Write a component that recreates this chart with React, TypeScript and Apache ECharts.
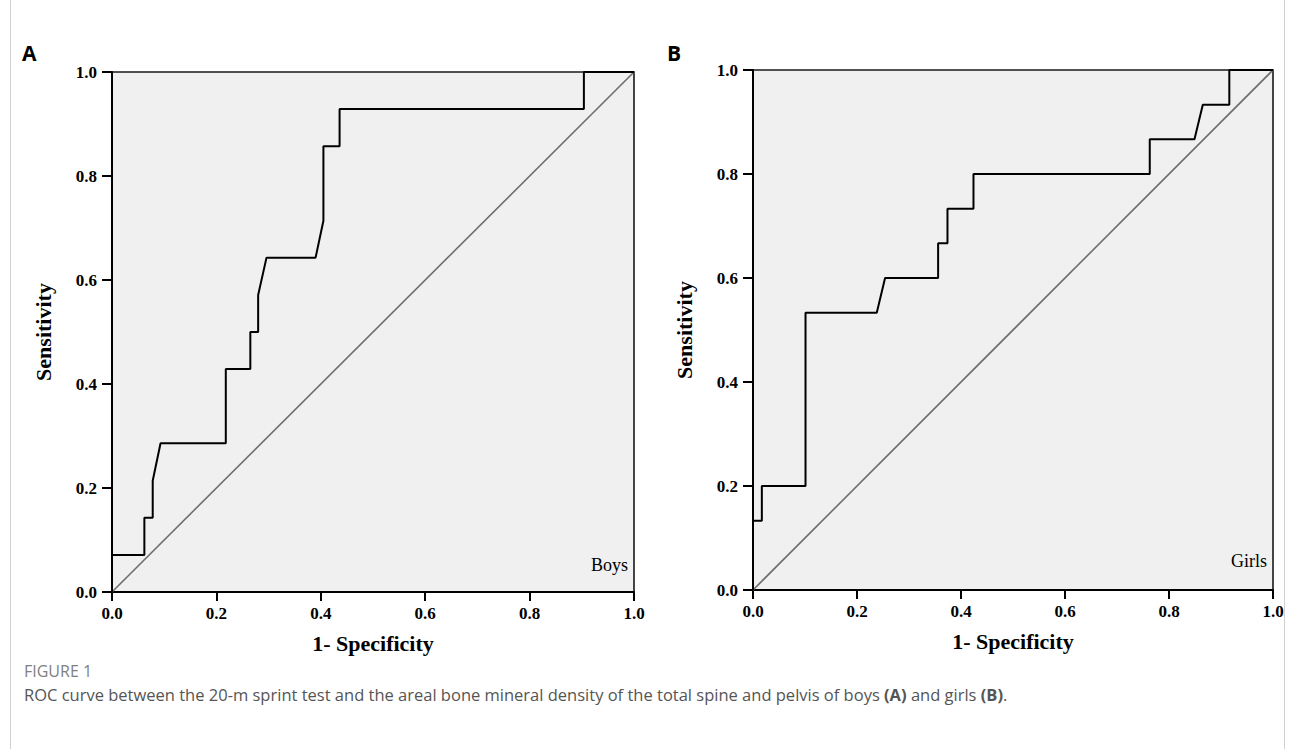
import React, { useEffect, useRef } from "react";
import * as echarts from "echarts";

const tickLabels = ["0.0", "0.2", "0.4", "0.6", "0.8", "1.0"];
const boysFPR = [0, 0, 0.062, 0.062, 0.078, 0.078, 0.093, 0.218, 0.218, 0.265, 0.265, 0.28, 0.28, 0.296, 0.39, 0.405, 0.405, 0.436, 0.436, 0.904, 0.904, 1];
const boysTPR = [0, 0.071, 0.071, 0.143, 0.143, 0.214, 0.286, 0.286, 0.429, 0.429, 0.5, 0.5, 0.571, 0.643, 0.643, 0.714, 0.857, 0.857, 0.929, 0.929, 1, 1];
const girlsFPR = [0, 0, 0.017, 0.017, 0.101, 0.101, 0.238, 0.254, 0.356, 0.356, 0.374, 0.374, 0.424, 0.424, 0.763, 0.763, 0.849, 0.865, 0.916, 0.916, 1];
const girlsTPR = [0, 0.133, 0.133, 0.2, 0.2, 0.533, 0.533, 0.6, 0.6, 0.667, 0.667, 0.733, 0.733, 0.8, 0.8, 0.867, 0.867, 0.933, 0.933, 1, 1];
const refX = [0, 1];
const refY = [0, 1];

const SERIF = "'Liberation Serif', 'Times New Roman', serif";
const SANS = "'Open Sans', 'Noto Sans', sans-serif";

function zip(xs: number[], ys: number[]) {
  return xs.map((x, i) => [x, ys[i]]);
}

function makeX(gridIndex: number) {
  return {
    type: "value",
    gridIndex,
    min: 0,
    max: 1,
    interval: 0.2,
    name: "1- Specificity",
    nameLocation: "middle",
    nameGap: 40,
    nameTextStyle: { fontFamily: SERIF, fontWeight: "bold", fontSize: 22, color: "#000" },
    axisLine: { show: true, onZero: false, lineStyle: { color: "#000", width: 2 } },
    axisTick: { show: true, inside: false, length: 9, lineStyle: { color: "#000", width: 2 } },
    axisLabel: {
      show: true,
      margin: 13,
      showMinLabel: true,
      showMaxLabel: true,
      fontFamily: SERIF,
      fontWeight: "bold",
      fontSize: 17,
      color: "#000",
      formatter: (v: number) => tickLabels[Math.round(v / 0.2)],
    },
    splitLine: { show: false },
  };
}

function makeY(gridIndex: number) {
  return {
    type: "value",
    gridIndex,
    min: 0,
    max: 1,
    interval: 0.2,
    name: "Sensitivity",
    nameLocation: "middle",
    nameRotate: 90,
    nameGap: 58,
    nameTextStyle: { fontFamily: SERIF, fontWeight: "bold", fontSize: 22, color: "#000" },
    axisLine: { show: true, onZero: false, lineStyle: { color: "#000", width: 2 } },
    axisTick: { show: true, inside: false, length: 10, lineStyle: { color: "#000", width: 2 } },
    axisLabel: {
      show: true,
      margin: 15,
      showMinLabel: true,
      showMaxLabel: true,
      fontFamily: SERIF,
      fontWeight: "bold",
      fontSize: 17,
      color: "#000",
      formatter: (v: number) => tickLabels[Math.round(v / 0.2)],
    },
    splitLine: { show: false },
  };
}

export default function App() {
  const ref = useRef<HTMLDivElement>(null);
  useEffect(() => {
    if (!ref.current) return;
    const chart = echarts.init(ref.current, undefined, { renderer: "svg" });
    const curveStyle = { color: "#000", width: 2 };
    const diagStyle = { color: "#6e6e6e", width: 1.6 };
    chart.setOption({
      animation: false,
      backgroundColor: "#fff",
      grid: [
        { left: 112, top: 72, width: 522, height: 520, show: true, backgroundColor: "#f0f0f0", borderColor: "#1a1a1a", borderWidth: 1.6 },
        { left: 753, top: 70, width: 520, height: 520, show: true, backgroundColor: "#f0f0f0", borderColor: "#1a1a1a", borderWidth: 1.6 },
      ],
      xAxis: [makeX(0), makeX(1)],
      yAxis: [makeY(0), makeY(1)],
      series: [
        { type: "line", xAxisIndex: 0, yAxisIndex: 0, data: zip(refX, refY), symbol: "none", lineStyle: diagStyle, z: 2 },
        { type: "line", xAxisIndex: 0, yAxisIndex: 0, data: zip(boysFPR, boysTPR), symbol: "none", lineStyle: curveStyle, z: 3 },
        { type: "line", xAxisIndex: 1, yAxisIndex: 1, data: zip(refX, refY), symbol: "none", lineStyle: diagStyle, z: 2 },
        { type: "line", xAxisIndex: 1, yAxisIndex: 1, data: zip(girlsFPR, girlsTPR), symbol: "none", lineStyle: curveStyle, z: 3 },
      ],
      graphic: [
        { type: "rect", silent: true, z: -10, shape: { x: 10.5, y: -1, width: 1274, height: 760 }, style: { fill: "none", stroke: "#d0d0d0", lineWidth: 1 } },
        { type: "text", x: 22, y: 63, style: { text: "A", fontFamily: SANS, fontWeight: "bold", fontSize: 21, fill: "#000", textVerticalAlign: "bottom" } },
        { type: "text", x: 667, y: 63, style: { text: "B", fontFamily: SANS, fontWeight: "bold", fontSize: 21, fill: "#000", textVerticalAlign: "bottom" } },
        { type: "text", x: 628, y: 574, style: { text: "Boys", fontFamily: SERIF, fontSize: 18, fill: "#000", textAlign: "right", textVerticalAlign: "bottom" } },
        { type: "text", x: 1267, y: 570, style: { text: "Girls", fontFamily: SERIF, fontSize: 18, fill: "#000", textAlign: "right", textVerticalAlign: "bottom" } },
        { type: "text", x: 24, y: 671, style: { text: "FIGURE 1", fontFamily: SANS, fontSize: 16, fill: "#808080", textVerticalAlign: "middle" } },
        {
          type: "text",
          x: 24,
          y: 694,
          style: {
            text: "{n|ROC curve between the 20-m sprint test and the areal bone mineral density of the total spine and pelvis of boys }{b|(A)}{n| and girls }{b|(B)}{n|.}",
            textVerticalAlign: "middle",
            rich: {
              n: { fontFamily: SANS, fontSize: 16.5, fill: "#555", color: "#555" },
              b: { fontFamily: SANS, fontSize: 16.5, fontWeight: "bold", fill: "#555", color: "#555" },
            },
          },
        },
      ],
    });
    return () => chart.dispose();
  }, []);
  return <div ref={ref} style={{ position: "absolute", left: 0, top: 0, width: 1295, height: 749 }} />;
}
